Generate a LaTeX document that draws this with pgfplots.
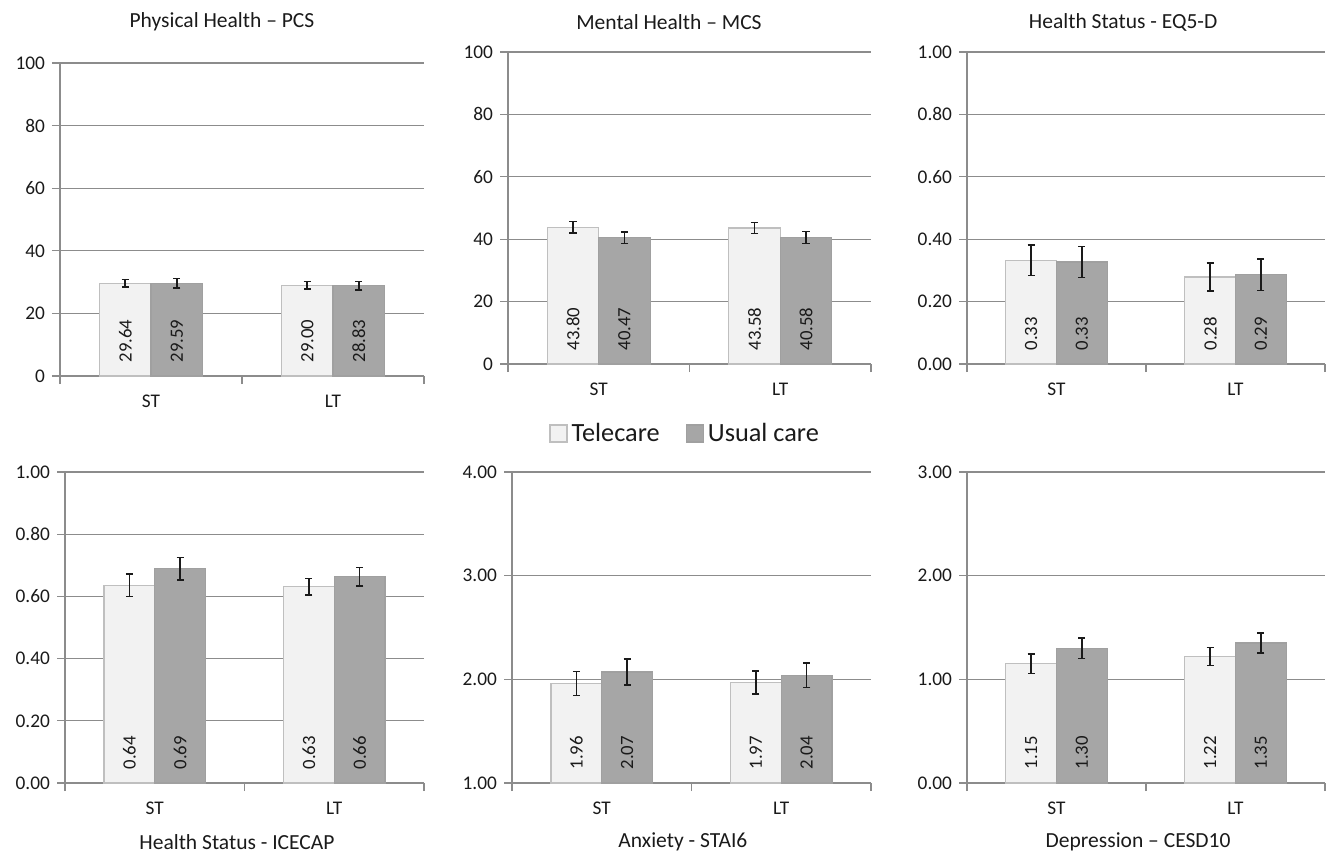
\documentclass[border=0pt]{standalone}
\usepackage{fontspec}
\setmainfont{Carlito}
\usepackage{pgfplots}
\usepackage{pgfplotstable}
\pgfplotsset{compat=1.18}

\definecolor{txt}{HTML}{1A1A1A}
\definecolor{gridc}{HTML}{8C8C8C}
\definecolor{telefill}{HTML}{F2F2F2}
\definecolor{teledraw}{HTML}{BFBFBF}
\definecolor{usualfill}{HTML}{A6A6A6}
\definecolor{usualdraw}{HTML}{A0A0A0}

% ST at 0, LT at 1; xt / xu = bar centres of Telecare / Usual care
% error = half length of the error bar
\pgfplotstableread{
xt xu tele tErr usual uErr
-0.1415 0.1415 29.64 1.2 29.59 1.5
0.8585 1.1415 29.00 1.2 28.83 1.3
}\pcs
\pgfplotstableread{
xt xu tele tErr usual uErr
-0.1415 0.1415 43.80 1.8 40.47 1.9
0.8585 1.1415 43.58 1.8 40.58 1.9
}\mcs
\pgfplotstableread{
xt xu tele tErr usual uErr
-0.1415 0.1415 0.333 0.049 0.327 0.050
0.8585 1.1415 0.279 0.045 0.286 0.050
}\eqfived
\pgfplotstableread{
xt xu tele tErr usual uErr
-0.1415 0.1415 0.636 0.036 0.689 0.036
0.8585 1.1415 0.631 0.027 0.663 0.030
}\icecap
\pgfplotstableread{
xt xu tele tErr usual uErr
-0.1415 0.1415 1.96 0.117 2.07 0.124
0.8585 1.1415 1.97 0.112 2.04 0.117
}\stai
\pgfplotstableread{
xt xu tele tErr usual uErr
-0.1415 0.1415 1.15 0.096 1.30 0.100
0.8585 1.1415 1.22 0.088 1.35 0.096
}\cesd

\pgfplotsset{
  panel/.style={
    scale only axis,
    xmin=-0.5, xmax=1.5,
    axis x line*=bottom, axis y line*=left,
    axis line style={-, gridc, line width=0.6bp},
    every outer x axis line/.append style={-},
    every outer y axis line/.append style={-},
    ymajorgrids, grid style={gridc, line width=0.6bp},
    tick align=outside, major tick length=4bp,
    tick style={gridc, line width=0.6bp},
    xtick={-0.5,0.5,1.5}, xticklabels={},
    extra x ticks={0,1}, extra x tick labels={ST,LT},
    extra x tick style={major tick length=0pt},
    xticklabel style={yshift=-6bp},
    ticklabel style={font=\fontsize{9.7}{11}\selectfont, text=txt},
    /pgf/number format/assume math mode=true,
    every axis title/.style={font=\fontsize{10.8}{13}\selectfont, text=txt, anchor=center},
  },
  dec/.style={yticklabel style={/pgf/number format/.cd, fixed, fixed zerofill, precision=2}},
  vals/.style={
    nodes near coords={\pgfmathprintnumber[fixed,fixed zerofill,precision=2]{\pgfplotspointmeta}},
    visualization depends on={y \as \rawy},
    every node near coord/.style={shift={(axis direction cs:0,{#1-\rawy})}, yshift=6.5bp,
      rotate=90, anchor=west, inner sep=0pt, font=\fontsize{9.4}{11}\selectfont, text=txt},
  },
  errs/.style={
    error bars/.cd, y dir=both, y explicit,
    error bar style={txt, line width=0.75bp},
    error mark options={rotate=90, txt, line width=0.75bp, mark size=1.8bp},
  },
  tele/.style={ybar, bar width=0.283, bar shift=0, fill=telefill, draw=teledraw, line width=0.6bp,
    legend image code/.code={\draw[##1,/tikz/.cd,yshift=-4.25bp] (0bp,0bp) rectangle (8.5bp,8.5bp);},
    vals=#1, errs},
  usual/.style={ybar, bar width=0.283, bar shift=0, fill=usualfill, draw=usualdraw, line width=0.6bp,
    legend image code/.code={\draw[##1,/tikz/.cd,yshift=-4.25bp] (0bp,0bp) rectangle (8.5bp,8.5bp);},
    vals=#1, errs},
}

\begin{document}
\begin{tikzpicture}
\path[use as bounding box] (0bp,0bp) rectangle (664.5bp,-427.5bp);

% top row
\begin{axis}[panel, at={(30bp,-188bp)}, anchor=south west, width=182bp, height=156.5bp,
  ymin=0, ymax=100, ytick={0,20,...,100},
  title={Physical Health – PCS}, title style={at={(0.445,1.131)}}]
\addplot[tele=0] table[x=xt, y=tele, y error=tErr] {\pcs};
\addplot[usual=0] table[x=xu, y=usual, y error=uErr] {\pcs};
\end{axis}

\begin{axis}[panel, at={(254bp,-182bp)}, anchor=south west, width=181.5bp, height=156bp,
  ymin=0, ymax=100, ytick={0,20,...,100},
  title={Mental Health – MCS}, title style={at={(0.4435,1.096)}}]
\addplot[tele=0] table[x=xt, y=tele, y error=tErr] {\mcs};
\addplot[usual=0] table[x=xu, y=usual, y error=uErr] {\mcs};
\end{axis}

\begin{axis}[panel, dec, at={(483.5bp,-182bp)}, anchor=south west, width=179bp, height=156bp,
  ymin=0, ymax=1, ytick={0,0.2,0.4,0.6,0.8,1},
  title={Health Status - EQ5-D}, title style={at={(0.436,1.096)}}]
\addplot[tele=0] table[x=xt, y=tele, y error=tErr] {\eqfived};
\addplot[usual=0] table[x=xu, y=usual, y error=uErr] {\eqfived};
\end{axis}

% bottom row
\begin{axis}[panel, dec, at={(32.5bp,-391.5bp)}, anchor=south west, width=179.5bp, height=155.5bp,
  ymin=0, ymax=1, ytick={0,0.2,0.4,0.6,0.8,1},
  title={Health Status - ICECAP}, title style={at={(0.479,-0.19)}}]
\addplot[tele=0] table[x=xt, y=tele, y error=tErr] {\icecap};
\addplot[usual=0] table[x=xu, y=usual, y error=uErr] {\icecap};
\end{axis}

\begin{axis}[panel, dec, at={(256bp,-391.5bp)}, anchor=south west, width=179.5bp, height=155.5bp,
  ymin=1, ymax=4, ytick={1,2,3,4},
  title={Anxiety - STAI6}, title style={at={(0.476,-0.19)}},
  legend style={at={(0.485,1.124)}, anchor=center, draw=none, fill=none, legend columns=-1,
    font=\fontsize{13.2}{15}\selectfont, text=txt,
    /tikz/every even column/.append style={column sep=11bp}}]
\addplot[tele=1] table[x=xt, y=tele, y error=tErr] {\stai};
\addplot[usual=1] table[x=xu, y=usual, y error=uErr] {\stai};
\legend{Telecare, Usual care}
\end{axis}

\begin{axis}[panel, dec, at={(483.5bp,-391.5bp)}, anchor=south west, width=179bp, height=155.5bp,
  ymin=0, ymax=3, ytick={0,1,2,3},
  title={Depression – CESD10}, title style={at={(0.478,-0.19)}}]
\addplot[tele=0] table[x=xt, y=tele, y error=tErr] {\cesd};
\addplot[usual=0] table[x=xu, y=usual, y error=uErr] {\cesd};
\end{axis}
\end{tikzpicture}
\end{document}
